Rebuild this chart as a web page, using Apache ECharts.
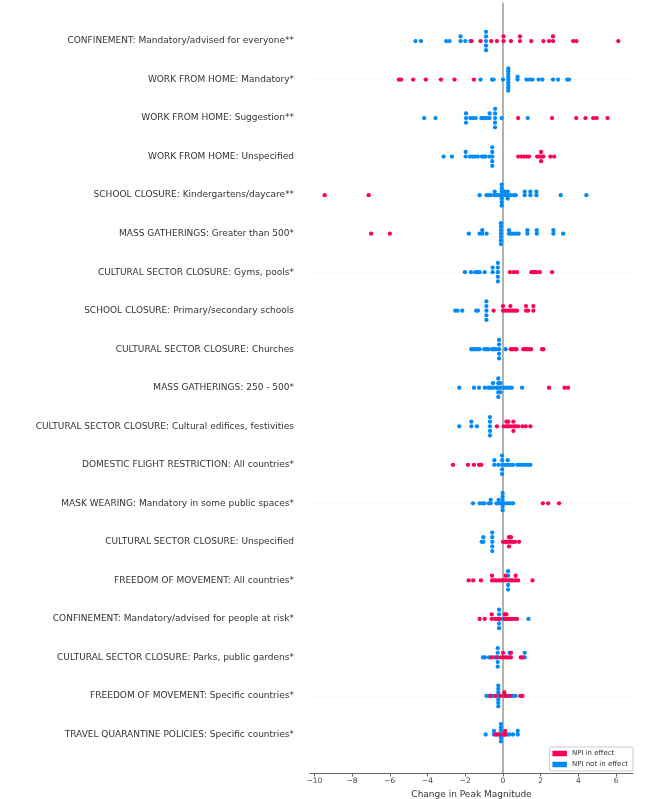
<!DOCTYPE html>
<html><head><meta charset="utf-8">
<script src="https://cdn.jsdelivr.net/npm/echarts@6/dist/echarts.min.js"></script>
<style>html,body{margin:0;padding:0;background:#fff}#c{width:666px;height:799px}</style>
</head><body><div id="c"></div>
<script>
const features = [
  'CONFINEMENT: Mandatory/advised for everyone**',
  'WORK FROM HOME: Mandatory*',
  'WORK FROM HOME: Suggestion**',
  'WORK FROM HOME: Unspecified',
  'SCHOOL CLOSURE: Kindergartens/daycare**',
  'MASS GATHERINGS: Greater than 500*',
  'CULTURAL SECTOR CLOSURE: Gyms, pools*',
  'SCHOOL CLOSURE: Primary/secondary schools',
  'CULTURAL SECTOR CLOSURE: Churches',
  'MASS GATHERINGS: 250 - 500*',
  'CULTURAL SECTOR CLOSURE: Cultural edifices, festivities',
  'DOMESTIC FLIGHT RESTRICTION: All countries*',
  'MASK WEARING: Mandatory in some public spaces*',
  'CULTURAL SECTOR CLOSURE: Unspecified',
  'FREEDOM OF MOVEMENT: All countries*',
  'CONFINEMENT: Mandatory/advised for people at risk*',
  'CULTURAL SECTOR CLOSURE: Parks, public gardens*',
  'FREEDOM OF MOVEMENT: Specific countries*',
  'TRAVEL QUARANTINE POLICIES: Specific countries*'
];

// Change in peak magnitude, NPI in effect (red)
const npiInEffect = [
  [-1.66,-1.19,-0.62,-0.32,0.03,0.03,0.42,0.90,0.90,1.50,2.14,2.44,2.65,2.65,3.72,3.89,6.11],
  [-5.52,-5.40,-4.76,-4.09,-3.29,-2.57,-1.54],
  [0.80,2.60,3.88,4.37,4.78,4.96,5.54],
  [0.81,0.97,1.10,1.24,1.38,1.81,1.91,2.02,2.02,2.02,2.14,2.51,2.71],
  [-9.45,-7.12],
  [-6.99,-6.00],
  [0.37,0.57,0.74,1.50,1.59,1.68,1.77,1.95,2.60],
  [-0.50,0.00,0.00,0.14,0.27,0.39,0.39,0.51,0.64,0.74,1.22,1.22,1.33,1.61,1.61],
  [0.41,0.51,0.64,0.71,1.08,1.19,1.29,1.40,1.49,2.07,2.14],
  [2.44,3.26,3.45],
  [-0.32,0.04,0.18,0.18,0.28,0.28,0.41,0.55,0.55,0.55,0.67,0.80,1.03,1.20,1.45],
  [-2.65,-1.86,-1.54,-1.27,-1.15],
  [2.11,2.39,2.97],
  [0.00,0.11,0.21,0.32,0.32,0.32,0.42,0.42,0.53,0.64,0.85],
  [-1.82,-1.58,-1.17,-0.58,-0.58,-0.46,-0.34,-0.21,-0.09,0.04,0.14,0.14,0.36,0.44,0.53,0.67,0.67,0.80,1.56],
  [-1.24,-0.97,-0.60,-0.60,-0.42,-0.30,-0.18,0.09,0.09,0.18,0.18,0.32,0.42,0.60,0.74],
  [-0.62,-0.35,-0.12,0.00,0.00,0.12,0.25,0.42,0.42,0.94,1.03],
  [-0.67,-0.39,-0.12,0.07,0.07,0.18,0.39,0.92,1.03],
  [-0.39,-0.23,0.02,0.11,0.11]
];

// Change in peak magnitude, NPI not in effect (blue)
const npiNotInEffect = [
  [-4.64,-4.35,-3.01,-2.83,-2.25,-2.25,-2.00,-1.73,-0.90,-0.90,-0.90,-0.90,-0.90],
  [-1.19,-0.58,-0.50,0.00,0.28,0.28,0.28,0.28,0.28,0.28,0.28,0.28,0.28,0.77,0.77,1.24,1.42,1.56,1.89,2.09,2.65,2.92,3.40,3.50],
  [-4.18,-3.58,-1.96,-1.96,-1.96,-1.73,-1.59,-1.45,-1.15,-1.03,-0.92,-0.80,-0.71,-0.71,-0.42,-0.42,-0.42,-0.42,-0.42,-0.07,1.31],
  [-3.15,-2.71,-1.98,-1.98,-1.75,-1.61,-1.47,-1.33,-1.12,-1.01,-0.92,-0.71,-0.57,-0.57,-0.57,-0.57,-0.57],
  [-1.24,-0.87,-0.76,-0.64,-0.44,-0.44,-0.32,-0.21,-0.07,-0.07,-0.07,-0.07,-0.07,-0.07,-0.07,0.11,0.11,0.25,0.25,0.25,0.39,0.57,0.67,1.15,1.15,1.45,1.45,1.77,1.77,3.06,4.42],
  [-1.81,-1.24,-1.10,-1.10,-0.87,-0.11,-0.11,-0.11,-0.11,-0.11,-0.11,-0.11,0.32,0.32,0.42,0.57,0.71,0.83,1.29,1.29,1.79,1.79,2.67,2.67,3.19],
  [-2.02,-1.70,-1.47,-1.36,-1.24,-0.97,-0.55,-0.55,-0.27,-0.27,-0.27,-0.27,-0.27],
  [-2.53,-2.41,-2.16,-1.42,-1.33,-0.88,-0.88,-0.88,-0.88,-0.88],
  [-1.68,-1.58,-1.47,-1.36,-1.24,-0.99,-0.88,-0.78,-0.58,-0.48,-0.37,-0.21,-0.21,-0.21,-0.21,-0.21,0.14],
  [-2.32,-1.54,-1.27,-0.96,-0.78,-0.67,-0.53,-0.53,-0.35,-0.25,-0.25,-0.25,-0.25,-0.25,-0.14,-0.14,-0.14,0.04,0.18,0.32,0.46,1.01],
  [-2.32,-1.68,-1.68,-1.38,-0.69,-0.69,-0.69,-0.69,-0.69],
  [-0.46,-0.46,-0.25,-0.05,-0.05,-0.05,-0.05,-0.05,0.11,0.25,0.25,0.39,0.53,0.76,0.90,1.04,1.19,1.33,1.45],
  [-1.59,-1.24,-1.10,-0.99,-0.76,-0.65,-0.65,-0.35,-0.23,-0.23,-0.12,-0.02,-0.02,-0.02,-0.02,-0.02,-0.02,0.11,0.25,0.39,0.53],
  [-1.13,-1.04,-1.04,-0.57,-0.57,-0.57,-0.57,-0.57],
  [0.27,0.27,0.27,0.27,0.27],
  [-0.21,-0.21,-0.21,-0.21,-0.21,0.00,0.50,1.35],
  [-1.06,-0.96,-0.74,-0.48,-0.28,-0.28,-0.28,-0.28,-0.28,0.35,0.35,1.15,1.15],
  [-0.88,-0.74,-0.53,-0.25,-0.25,-0.25,-0.25,-0.25,-0.25,-0.25,0.28,0.53,0.67],
  [-0.92,-0.48,-0.48,-0.32,-0.11,-0.11,-0.11,-0.11,-0.11,-0.11,0.07,0.21,0.35,0.53,0.78,0.78]
];

const xTicks = [-10,-8,-6,-4,-2,0,2,4,6];
const xTitle = 'Change in Peak Magnitude';
const seriesNames = ['NPI in effect', 'NPI not in effect'];
const RED = '#ff0052', BLUE = '#008bfb';

// beeswarm vertical layout (same rule as the SHAP summary plot)
function swarm(vals) {
  const N = vals.length, nbins = 100, rowHeight = 0.4;
  const mn = Math.min(...vals), mx = Math.max(...vals);
  const quant = vals.map(v => Math.round(nbins * (v - mn) / (mx - mn + 1e-8)));
  const inds = vals.map((_, i) => i).sort((a, b) => (quant[a] - quant[b]) || (a - b));
  const ys = new Array(N).fill(0);
  let layer = 0, last = -1;
  for (const i of inds) {
    if (quant[i] !== last) layer = 0;
    ys[i] = Math.ceil(layer / 2) * ((layer % 2) * 2 - 1);
    layer++; last = quant[i];
  }
  const m = Math.max(...ys.map(y => y + 1));
  return ys.map(y => y * 0.9 * rowHeight / m);
}

const redPts = [], bluePts = [];
const nF = features.length;
features.forEach((f, i) => {
  const pos = nF - 1 - i;
  const pts = npiNotInEffect[i].map(v => ({v, c: 0})).concat(npiInEffect[i].map(v => ({v, c: 1})));
  const ys = swarm(pts.map(p => p.v));
  pts.forEach((p, k) => (p.c ? redPts : bluePts).push([p.v, pos + ys[k]]));
});

const rowLines = features.map((f, i) => ({yAxis: nF - 1 - i}));
const FONT = "'DejaVu Sans', sans-serif";
const minus = v => (v < 0 ? '\u2212' + Math.abs(v) : String(v));

const chart = echarts.init(document.getElementById('c'), null, {renderer: 'canvas'});
chart.setOption({
  animation: false,
  backgroundColor: '#fff',
  grid: {left: 310, right: 33, top: 2.5, bottom: 26, containLabel: false, outerBoundsMode: 'none'},
  xAxis: {
    type: 'value', min: -10.23, max: 6.89,
    name: xTitle, nameLocation: 'middle', nameGap: 14,
    nameTextStyle: {fontFamily: FONT, fontSize: 9, color: '#333'},
    axisLine: {show: true, onZero: false, lineStyle: {color: '#666', width: 1}},
    axisTick: {show: true, length: 3.5, customValues: xTicks, lineStyle: {color: '#666'}},
    axisLabel: {customValues: xTicks, formatter: minus, fontFamily: FONT, fontSize: 7.5, color: '#444', margin: 4},
    splitLine: {show: false}
  },
  yAxis: {
    type: 'value', min: -1, max: nF,
    axisLine: {show: false}, axisTick: {show: false}, splitLine: {show: false},
    axisLabel: {
      customValues: features.map((f, i) => i),
      formatter: v => features[nF - 1 - v] || '',
      fontFamily: FONT, fontSize: 9, color: '#333', margin: 16
    }
  },
  legend: {
    orient: 'vertical', right: 33, bottom: 28,
    data: [{name: seriesNames[0], icon: 'rect'}, {name: seriesNames[1], icon: 'rect'}],
    itemWidth: 14.5, itemHeight: 5.5, itemGap: 4,
    textStyle: {fontFamily: FONT, fontSize: 7, color: '#333'},
    backgroundColor: 'rgba(255,255,255,0.8)', borderColor: '#ccc', borderWidth: 1, borderRadius: 2,
    padding: [3, 5, 3, 3]
  },
  series: [
    {
      type: 'scatter', name: 'guides', data: [], z: 1, silent: true,
      markLine: {
        silent: true, symbol: 'none', z: 1, label: {show: false},
        data: rowLines.map(d => Object.assign({}, d, {lineStyle: {color: '#d8d8d8', width: 0.6, type: [1, 3]}}))
          .concat([{xAxis: 0, lineStyle: {color: '#999', width: 1.5, type: 'solid'}}])
      }
    },
    {type: 'scatter', name: seriesNames[1], data: bluePts, symbolSize: 4.3, itemStyle: {color: BLUE, opacity: 1}, z: 3},
    {type: 'scatter', name: seriesNames[0], data: redPts, symbolSize: 4.3, itemStyle: {color: RED, opacity: 1}, z: 4}
  ]
});
</script>
</body></html>
